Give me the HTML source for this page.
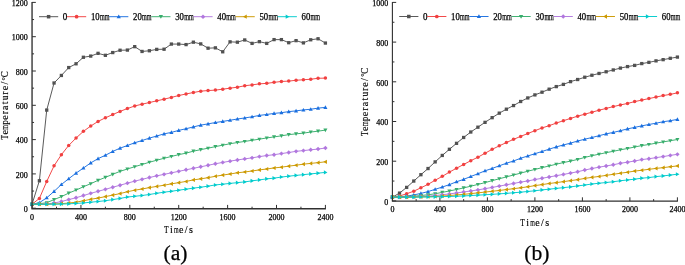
<!DOCTYPE html>
<html><head><meta charset="utf-8"><title>Temperature curves</title>
<style>
html,body{margin:0;padding:0;background:#fff;}
body{width:685px;height:265px;overflow:hidden;}
svg{display:block;will-change:transform;}
.ttl text{stroke-width:0.15px;}
text{font-family:"Liberation Serif",serif;fill:#000;stroke:#000;stroke-width:0.25px;}
</style></head><body>
<svg width="685" height="265" viewBox="0 0 685 265">
<rect width="685" height="265" fill="#fff"/>
<polyline fill="none" stroke="#515151" stroke-width="0.95" stroke-linejoin="round" points="32.05,204.26 39.38,180.76 46.72,110.10 54.05,83.00 61.38,75.46 68.72,67.57 76.05,63.80 83.39,57.28 90.72,56.08 98.05,53.34 105.39,55.31 112.72,52.56 120.05,50.25 127.39,50.08 134.72,46.65 142.06,51.45 149.39,50.76 156.72,49.39 164.06,49.22 171.39,44.07 178.72,44.07 186.06,44.59 193.39,42.19 200.73,43.90 208.06,48.19 215.39,47.85 222.73,51.79 230.06,41.84 237.39,42.19 244.73,39.96 252.06,43.39 259.40,41.67 266.73,43.39 274.06,39.62 281.40,39.62 288.73,42.70 296.06,40.64 303.40,42.87 310.73,39.79 318.07,38.76 325.40,43.05"/>
<rect x="30.40" y="202.61" width="3.30" height="3.30" fill="#515151"/>
<rect x="37.73" y="179.11" width="3.30" height="3.30" fill="#515151"/>
<rect x="45.07" y="108.45" width="3.30" height="3.30" fill="#515151"/>
<rect x="52.40" y="81.35" width="3.30" height="3.30" fill="#515151"/>
<rect x="59.73" y="73.81" width="3.30" height="3.30" fill="#515151"/>
<rect x="67.07" y="65.92" width="3.30" height="3.30" fill="#515151"/>
<rect x="74.40" y="62.15" width="3.30" height="3.30" fill="#515151"/>
<rect x="81.74" y="55.63" width="3.30" height="3.30" fill="#515151"/>
<rect x="89.07" y="54.43" width="3.30" height="3.30" fill="#515151"/>
<rect x="96.40" y="51.69" width="3.30" height="3.30" fill="#515151"/>
<rect x="103.74" y="53.66" width="3.30" height="3.30" fill="#515151"/>
<rect x="111.07" y="50.91" width="3.30" height="3.30" fill="#515151"/>
<rect x="118.40" y="48.60" width="3.30" height="3.30" fill="#515151"/>
<rect x="125.74" y="48.43" width="3.30" height="3.30" fill="#515151"/>
<rect x="133.07" y="45.00" width="3.30" height="3.30" fill="#515151"/>
<rect x="140.41" y="49.80" width="3.30" height="3.30" fill="#515151"/>
<rect x="147.74" y="49.11" width="3.30" height="3.30" fill="#515151"/>
<rect x="155.07" y="47.74" width="3.30" height="3.30" fill="#515151"/>
<rect x="162.41" y="47.57" width="3.30" height="3.30" fill="#515151"/>
<rect x="169.74" y="42.42" width="3.30" height="3.30" fill="#515151"/>
<rect x="177.07" y="42.42" width="3.30" height="3.30" fill="#515151"/>
<rect x="184.41" y="42.94" width="3.30" height="3.30" fill="#515151"/>
<rect x="191.74" y="40.54" width="3.30" height="3.30" fill="#515151"/>
<rect x="199.08" y="42.25" width="3.30" height="3.30" fill="#515151"/>
<rect x="206.41" y="46.54" width="3.30" height="3.30" fill="#515151"/>
<rect x="213.74" y="46.20" width="3.30" height="3.30" fill="#515151"/>
<rect x="221.08" y="50.14" width="3.30" height="3.30" fill="#515151"/>
<rect x="228.41" y="40.20" width="3.30" height="3.30" fill="#515151"/>
<rect x="235.74" y="40.54" width="3.30" height="3.30" fill="#515151"/>
<rect x="243.08" y="38.31" width="3.30" height="3.30" fill="#515151"/>
<rect x="250.41" y="41.74" width="3.30" height="3.30" fill="#515151"/>
<rect x="257.75" y="40.02" width="3.30" height="3.30" fill="#515151"/>
<rect x="265.08" y="41.74" width="3.30" height="3.30" fill="#515151"/>
<rect x="272.41" y="37.97" width="3.30" height="3.30" fill="#515151"/>
<rect x="279.75" y="37.97" width="3.30" height="3.30" fill="#515151"/>
<rect x="287.08" y="41.05" width="3.30" height="3.30" fill="#515151"/>
<rect x="294.42" y="38.99" width="3.30" height="3.30" fill="#515151"/>
<rect x="301.75" y="41.22" width="3.30" height="3.30" fill="#515151"/>
<rect x="309.08" y="38.14" width="3.30" height="3.30" fill="#515151"/>
<rect x="316.42" y="37.11" width="3.30" height="3.30" fill="#515151"/>
<rect x="323.75" y="41.40" width="3.30" height="3.30" fill="#515151"/>
<polyline fill="none" stroke="#F14040" stroke-width="0.95" stroke-linejoin="round" points="32.05,204.26 39.38,198.42 46.72,181.45 54.05,165.84 61.38,154.69 68.72,145.43 76.05,138.06 83.39,131.37 90.72,126.05 98.05,121.42 105.39,117.82 112.72,114.56 120.05,111.39 127.39,108.56 134.72,105.99 142.06,104.17 149.39,102.56 156.72,100.84 164.06,99.18 171.39,97.41 178.72,95.52 186.06,93.98 193.39,92.52 200.73,91.15 208.06,90.55 215.39,90.11 222.73,89.18 230.06,88.15 237.39,87.19 244.73,85.75 252.06,84.89 259.40,83.86 266.73,83.35 274.06,82.37 281.40,81.46 288.73,81.12 296.06,80.26 303.40,79.75 310.73,79.23 318.07,78.27 325.40,78.12"/>
<circle cx="32.05" cy="204.26" r="1.75" fill="#F14040"/>
<circle cx="39.38" cy="198.42" r="1.75" fill="#F14040"/>
<circle cx="46.72" cy="181.45" r="1.75" fill="#F14040"/>
<circle cx="54.05" cy="165.84" r="1.75" fill="#F14040"/>
<circle cx="61.38" cy="154.69" r="1.75" fill="#F14040"/>
<circle cx="68.72" cy="145.43" r="1.75" fill="#F14040"/>
<circle cx="76.05" cy="138.06" r="1.75" fill="#F14040"/>
<circle cx="83.39" cy="131.37" r="1.75" fill="#F14040"/>
<circle cx="90.72" cy="126.05" r="1.75" fill="#F14040"/>
<circle cx="98.05" cy="121.42" r="1.75" fill="#F14040"/>
<circle cx="105.39" cy="117.82" r="1.75" fill="#F14040"/>
<circle cx="112.72" cy="114.56" r="1.75" fill="#F14040"/>
<circle cx="120.05" cy="111.39" r="1.75" fill="#F14040"/>
<circle cx="127.39" cy="108.56" r="1.75" fill="#F14040"/>
<circle cx="134.72" cy="105.99" r="1.75" fill="#F14040"/>
<circle cx="142.06" cy="104.17" r="1.75" fill="#F14040"/>
<circle cx="149.39" cy="102.56" r="1.75" fill="#F14040"/>
<circle cx="156.72" cy="100.84" r="1.75" fill="#F14040"/>
<circle cx="164.06" cy="99.18" r="1.75" fill="#F14040"/>
<circle cx="171.39" cy="97.41" r="1.75" fill="#F14040"/>
<circle cx="178.72" cy="95.52" r="1.75" fill="#F14040"/>
<circle cx="186.06" cy="93.98" r="1.75" fill="#F14040"/>
<circle cx="193.39" cy="92.52" r="1.75" fill="#F14040"/>
<circle cx="200.73" cy="91.15" r="1.75" fill="#F14040"/>
<circle cx="208.06" cy="90.55" r="1.75" fill="#F14040"/>
<circle cx="215.39" cy="90.11" r="1.75" fill="#F14040"/>
<circle cx="222.73" cy="89.18" r="1.75" fill="#F14040"/>
<circle cx="230.06" cy="88.15" r="1.75" fill="#F14040"/>
<circle cx="237.39" cy="87.19" r="1.75" fill="#F14040"/>
<circle cx="244.73" cy="85.75" r="1.75" fill="#F14040"/>
<circle cx="252.06" cy="84.89" r="1.75" fill="#F14040"/>
<circle cx="259.40" cy="83.86" r="1.75" fill="#F14040"/>
<circle cx="266.73" cy="83.35" r="1.75" fill="#F14040"/>
<circle cx="274.06" cy="82.37" r="1.75" fill="#F14040"/>
<circle cx="281.40" cy="81.46" r="1.75" fill="#F14040"/>
<circle cx="288.73" cy="81.12" r="1.75" fill="#F14040"/>
<circle cx="296.06" cy="80.26" r="1.75" fill="#F14040"/>
<circle cx="303.40" cy="79.75" r="1.75" fill="#F14040"/>
<circle cx="310.73" cy="79.23" r="1.75" fill="#F14040"/>
<circle cx="318.07" cy="78.27" r="1.75" fill="#F14040"/>
<circle cx="325.40" cy="78.12" r="1.75" fill="#F14040"/>
<polyline fill="none" stroke="#1A6FDF" stroke-width="0.95" stroke-linejoin="round" points="32.05,204.26 39.38,202.71 46.72,197.82 54.05,191.39 61.38,184.53 68.72,178.70 76.05,173.13 83.39,168.07 90.72,162.92 98.05,158.64 105.39,155.29 112.72,151.43 120.05,148.18 127.39,145.50 134.72,142.77 142.06,140.53 149.39,138.11 156.72,136.00 164.06,133.87 171.39,132.40 178.72,130.39 186.06,128.73 193.39,126.91 200.73,125.11 208.06,123.89 215.39,122.54 222.73,121.42 230.06,120.22 237.39,119.02 244.73,117.94 252.06,116.79 259.40,115.42 266.73,114.48 274.06,113.41 281.40,112.67 288.73,111.65 296.06,110.86 303.40,109.93 310.73,109.24 318.07,108.13 325.40,107.38"/>
<path d="M32.05 202.21L34.10 205.79L30.00 205.79Z" fill="#1A6FDF"/>
<path d="M39.38 200.66L41.43 204.25L37.33 204.25Z" fill="#1A6FDF"/>
<path d="M46.72 195.77L48.77 199.36L44.67 199.36Z" fill="#1A6FDF"/>
<path d="M54.05 189.34L56.10 192.93L52.00 192.93Z" fill="#1A6FDF"/>
<path d="M61.38 182.48L63.43 186.07L59.33 186.07Z" fill="#1A6FDF"/>
<path d="M68.72 176.65L70.77 180.24L66.67 180.24Z" fill="#1A6FDF"/>
<path d="M76.05 171.08L78.10 174.67L74.00 174.67Z" fill="#1A6FDF"/>
<path d="M83.39 166.02L85.44 169.61L81.34 169.61Z" fill="#1A6FDF"/>
<path d="M90.72 160.87L92.77 164.46L88.67 164.46Z" fill="#1A6FDF"/>
<path d="M98.05 156.59L100.10 160.17L96.00 160.17Z" fill="#1A6FDF"/>
<path d="M105.39 153.24L107.44 156.83L103.34 156.83Z" fill="#1A6FDF"/>
<path d="M112.72 149.38L114.77 152.97L110.67 152.97Z" fill="#1A6FDF"/>
<path d="M120.05 146.12L122.10 149.71L118.00 149.71Z" fill="#1A6FDF"/>
<path d="M127.39 143.45L129.44 147.04L125.34 147.04Z" fill="#1A6FDF"/>
<path d="M134.72 140.72L136.77 144.31L132.67 144.31Z" fill="#1A6FDF"/>
<path d="M142.06 138.48L144.11 142.06L140.01 142.06Z" fill="#1A6FDF"/>
<path d="M149.39 136.06L151.44 139.65L147.34 139.65Z" fill="#1A6FDF"/>
<path d="M156.72 133.95L158.77 137.54L154.67 137.54Z" fill="#1A6FDF"/>
<path d="M164.06 131.82L166.11 135.41L162.01 135.41Z" fill="#1A6FDF"/>
<path d="M171.39 130.35L173.44 133.93L169.34 133.93Z" fill="#1A6FDF"/>
<path d="M178.72 128.34L180.77 131.93L176.67 131.93Z" fill="#1A6FDF"/>
<path d="M186.06 126.68L188.11 130.26L184.01 130.26Z" fill="#1A6FDF"/>
<path d="M193.39 124.86L195.44 128.45L191.34 128.45Z" fill="#1A6FDF"/>
<path d="M200.73 123.06L202.78 126.65L198.68 126.65Z" fill="#1A6FDF"/>
<path d="M208.06 121.84L210.11 125.43L206.01 125.43Z" fill="#1A6FDF"/>
<path d="M215.39 120.49L217.44 124.07L213.34 124.07Z" fill="#1A6FDF"/>
<path d="M222.73 119.37L224.78 122.96L220.68 122.96Z" fill="#1A6FDF"/>
<path d="M230.06 118.17L232.11 121.76L228.01 121.76Z" fill="#1A6FDF"/>
<path d="M237.39 116.97L239.44 120.56L235.34 120.56Z" fill="#1A6FDF"/>
<path d="M244.73 115.89L246.78 119.48L242.68 119.48Z" fill="#1A6FDF"/>
<path d="M252.06 114.74L254.11 118.33L250.01 118.33Z" fill="#1A6FDF"/>
<path d="M259.40 113.37L261.45 116.96L257.35 116.96Z" fill="#1A6FDF"/>
<path d="M266.73 112.43L268.78 116.01L264.68 116.01Z" fill="#1A6FDF"/>
<path d="M274.06 111.36L276.11 114.95L272.01 114.95Z" fill="#1A6FDF"/>
<path d="M281.40 110.62L283.45 114.21L279.35 114.21Z" fill="#1A6FDF"/>
<path d="M288.73 109.60L290.78 113.18L286.68 113.18Z" fill="#1A6FDF"/>
<path d="M296.06 108.81L298.12 112.39L294.01 112.39Z" fill="#1A6FDF"/>
<path d="M303.40 107.88L305.45 111.47L301.35 111.47Z" fill="#1A6FDF"/>
<path d="M310.73 107.19L312.78 110.78L308.68 110.78Z" fill="#1A6FDF"/>
<path d="M318.07 106.08L320.12 109.67L316.02 109.67Z" fill="#1A6FDF"/>
<path d="M325.40 105.33L327.45 108.91L323.35 108.91Z" fill="#1A6FDF"/>
<polyline fill="none" stroke="#37AD6B" stroke-width="0.95" stroke-linejoin="round" points="32.05,204.26 39.38,203.74 46.72,202.71 54.05,199.62 61.38,196.62 68.72,193.11 76.05,190.07 83.39,186.76 90.72,183.68 98.05,180.35 105.39,177.33 112.72,174.33 120.05,171.33 127.39,169.00 134.72,166.70 142.06,164.47 149.39,162.24 156.72,160.23 164.06,158.29 171.39,156.46 178.72,154.64 186.06,153.15 193.39,151.16 200.73,149.65 208.06,148.18 215.39,146.63 222.73,145.17 230.06,143.72 237.39,142.52 244.73,141.44 252.06,140.29 259.40,139.17 266.73,137.95 274.06,136.91 281.40,135.83 288.73,134.63 296.06,133.87 303.40,133.12 310.73,132.05 318.07,131.16 325.40,130.10"/>
<path d="M32.05 206.31L34.10 202.72L30.00 202.72Z" fill="#37AD6B"/>
<path d="M39.38 205.79L41.43 202.20L37.33 202.20Z" fill="#37AD6B"/>
<path d="M46.72 204.76L48.77 201.17L44.67 201.17Z" fill="#37AD6B"/>
<path d="M54.05 201.68L56.10 198.09L52.00 198.09Z" fill="#37AD6B"/>
<path d="M61.38 198.67L63.43 195.09L59.33 195.09Z" fill="#37AD6B"/>
<path d="M68.72 195.16L70.77 191.57L66.67 191.57Z" fill="#37AD6B"/>
<path d="M76.05 192.12L78.10 188.53L74.00 188.53Z" fill="#37AD6B"/>
<path d="M83.39 188.81L85.44 185.22L81.34 185.22Z" fill="#37AD6B"/>
<path d="M90.72 185.73L92.77 182.14L88.67 182.14Z" fill="#37AD6B"/>
<path d="M98.05 182.40L100.10 178.81L96.00 178.81Z" fill="#37AD6B"/>
<path d="M105.39 179.38L107.44 175.79L103.34 175.79Z" fill="#37AD6B"/>
<path d="M112.72 176.38L114.77 172.79L110.67 172.79Z" fill="#37AD6B"/>
<path d="M120.05 173.38L122.10 169.79L118.00 169.79Z" fill="#37AD6B"/>
<path d="M127.39 171.05L129.44 167.46L125.34 167.46Z" fill="#37AD6B"/>
<path d="M134.72 168.75L136.77 165.16L132.67 165.16Z" fill="#37AD6B"/>
<path d="M142.06 166.52L144.11 162.93L140.01 162.93Z" fill="#37AD6B"/>
<path d="M149.39 164.29L151.44 160.70L147.34 160.70Z" fill="#37AD6B"/>
<path d="M156.72 162.28L158.77 158.69L154.67 158.69Z" fill="#37AD6B"/>
<path d="M164.06 160.34L166.11 156.76L162.01 156.76Z" fill="#37AD6B"/>
<path d="M171.39 158.51L173.44 154.92L169.34 154.92Z" fill="#37AD6B"/>
<path d="M178.72 156.69L180.77 153.10L176.67 153.10Z" fill="#37AD6B"/>
<path d="M186.06 155.20L188.11 151.61L184.01 151.61Z" fill="#37AD6B"/>
<path d="M193.39 153.21L195.44 149.62L191.34 149.62Z" fill="#37AD6B"/>
<path d="M200.73 151.70L202.78 148.11L198.68 148.11Z" fill="#37AD6B"/>
<path d="M208.06 150.23L210.11 146.64L206.01 146.64Z" fill="#37AD6B"/>
<path d="M215.39 148.68L217.44 145.09L213.34 145.09Z" fill="#37AD6B"/>
<path d="M222.73 147.22L224.78 143.64L220.68 143.64Z" fill="#37AD6B"/>
<path d="M230.06 145.77L232.11 142.18L228.01 142.18Z" fill="#37AD6B"/>
<path d="M237.39 144.57L239.44 140.98L235.34 140.98Z" fill="#37AD6B"/>
<path d="M244.73 143.49L246.78 139.90L242.68 139.90Z" fill="#37AD6B"/>
<path d="M252.06 142.34L254.11 138.75L250.01 138.75Z" fill="#37AD6B"/>
<path d="M259.40 141.22L261.45 137.63L257.35 137.63Z" fill="#37AD6B"/>
<path d="M266.73 140.00L268.78 136.42L264.68 136.42Z" fill="#37AD6B"/>
<path d="M274.06 138.96L276.11 135.37L272.01 135.37Z" fill="#37AD6B"/>
<path d="M281.40 137.88L283.45 134.29L279.35 134.29Z" fill="#37AD6B"/>
<path d="M288.73 136.68L290.78 133.09L286.68 133.09Z" fill="#37AD6B"/>
<path d="M296.06 135.92L298.12 132.33L294.01 132.33Z" fill="#37AD6B"/>
<path d="M303.40 135.17L305.45 131.58L301.35 131.58Z" fill="#37AD6B"/>
<path d="M310.73 134.10L312.78 130.52L308.68 130.52Z" fill="#37AD6B"/>
<path d="M318.07 133.21L320.12 129.62L316.02 129.62Z" fill="#37AD6B"/>
<path d="M325.40 132.15L327.45 128.56L323.35 128.56Z" fill="#37AD6B"/>
<polyline fill="none" stroke="#B177DE" stroke-width="0.95" stroke-linejoin="round" points="32.05,204.26 39.38,204.17 46.72,203.91 54.05,203.05 61.38,201.51 68.72,199.62 76.05,197.74 83.39,195.56 90.72,193.37 98.05,191.31 105.39,189.33 112.72,187.23 120.05,185.22 127.39,183.16 134.72,181.15 142.06,179.34 149.39,177.50 156.72,175.86 164.06,174.35 171.39,172.84 178.72,171.33 186.06,169.82 193.39,168.31 200.73,166.80 208.06,165.29 215.39,163.78 222.73,162.41 230.06,161.14 237.39,159.94 244.73,158.88 252.06,157.83 259.40,156.61 266.73,155.55 274.06,154.69 281.40,153.59 288.73,152.53 296.06,151.33 303.40,150.58 310.73,149.82 318.07,149.07 325.40,148.00"/>
<path d="M32.05 202.06L34.25 204.26L32.05 206.46L29.85 204.26Z" fill="#B177DE"/>
<path d="M39.38 201.97L41.58 204.17L39.38 206.37L37.18 204.17Z" fill="#B177DE"/>
<path d="M46.72 201.71L48.92 203.91L46.72 206.11L44.52 203.91Z" fill="#B177DE"/>
<path d="M54.05 200.85L56.25 203.05L54.05 205.25L51.85 203.05Z" fill="#B177DE"/>
<path d="M61.38 199.31L63.58 201.51L61.38 203.71L59.18 201.51Z" fill="#B177DE"/>
<path d="M68.72 197.43L70.92 199.62L68.72 201.82L66.52 199.62Z" fill="#B177DE"/>
<path d="M76.05 195.54L78.25 197.74L76.05 199.94L73.85 197.74Z" fill="#B177DE"/>
<path d="M83.39 193.36L85.59 195.56L83.39 197.76L81.19 195.56Z" fill="#B177DE"/>
<path d="M90.72 191.17L92.92 193.37L90.72 195.57L88.52 193.37Z" fill="#B177DE"/>
<path d="M98.05 189.11L100.25 191.31L98.05 193.51L95.85 191.31Z" fill="#B177DE"/>
<path d="M105.39 187.13L107.59 189.33L105.39 191.53L103.19 189.33Z" fill="#B177DE"/>
<path d="M112.72 185.03L114.92 187.23L112.72 189.43L110.52 187.23Z" fill="#B177DE"/>
<path d="M120.05 183.02L122.25 185.22L120.05 187.42L117.85 185.22Z" fill="#B177DE"/>
<path d="M127.39 180.96L129.59 183.16L127.39 185.36L125.19 183.16Z" fill="#B177DE"/>
<path d="M134.72 178.95L136.92 181.15L134.72 183.35L132.52 181.15Z" fill="#B177DE"/>
<path d="M142.06 177.14L144.26 179.34L142.06 181.54L139.86 179.34Z" fill="#B177DE"/>
<path d="M149.39 175.30L151.59 177.50L149.39 179.70L147.19 177.50Z" fill="#B177DE"/>
<path d="M156.72 173.66L158.92 175.86L156.72 178.06L154.52 175.86Z" fill="#B177DE"/>
<path d="M164.06 172.15L166.26 174.35L164.06 176.55L161.86 174.35Z" fill="#B177DE"/>
<path d="M171.39 170.64L173.59 172.84L171.39 175.04L169.19 172.84Z" fill="#B177DE"/>
<path d="M178.72 169.13L180.92 171.33L178.72 173.53L176.52 171.33Z" fill="#B177DE"/>
<path d="M186.06 167.62L188.26 169.82L186.06 172.02L183.86 169.82Z" fill="#B177DE"/>
<path d="M193.39 166.11L195.59 168.31L193.39 170.51L191.19 168.31Z" fill="#B177DE"/>
<path d="M200.73 164.60L202.93 166.80L200.73 169.00L198.53 166.80Z" fill="#B177DE"/>
<path d="M208.06 163.09L210.26 165.29L208.06 167.49L205.86 165.29Z" fill="#B177DE"/>
<path d="M215.39 161.58L217.59 163.78L215.39 165.98L213.19 163.78Z" fill="#B177DE"/>
<path d="M222.73 160.21L224.93 162.41L222.73 164.61L220.53 162.41Z" fill="#B177DE"/>
<path d="M230.06 158.94L232.26 161.14L230.06 163.34L227.86 161.14Z" fill="#B177DE"/>
<path d="M237.39 157.74L239.59 159.94L237.39 162.14L235.19 159.94Z" fill="#B177DE"/>
<path d="M244.73 156.68L246.93 158.88L244.73 161.08L242.53 158.88Z" fill="#B177DE"/>
<path d="M252.06 155.63L254.26 157.83L252.06 160.03L249.86 157.83Z" fill="#B177DE"/>
<path d="M259.40 154.41L261.60 156.61L259.40 158.81L257.20 156.61Z" fill="#B177DE"/>
<path d="M266.73 153.35L268.93 155.55L266.73 157.75L264.53 155.55Z" fill="#B177DE"/>
<path d="M274.06 152.49L276.26 154.69L274.06 156.89L271.86 154.69Z" fill="#B177DE"/>
<path d="M281.40 151.39L283.60 153.59L281.40 155.79L279.20 153.59Z" fill="#B177DE"/>
<path d="M288.73 150.33L290.93 152.53L288.73 154.73L286.53 152.53Z" fill="#B177DE"/>
<path d="M296.06 149.13L298.26 151.33L296.06 153.53L293.87 151.33Z" fill="#B177DE"/>
<path d="M303.40 148.38L305.60 150.58L303.40 152.78L301.20 150.58Z" fill="#B177DE"/>
<path d="M310.73 147.62L312.93 149.82L310.73 152.02L308.53 149.82Z" fill="#B177DE"/>
<path d="M318.07 146.87L320.27 149.07L318.07 151.27L315.87 149.07Z" fill="#B177DE"/>
<path d="M325.40 145.80L327.60 148.00L325.40 150.20L323.20 148.00Z" fill="#B177DE"/>
<polyline fill="none" stroke="#CC9900" stroke-width="0.95" stroke-linejoin="round" points="32.05,204.26 39.38,204.26 46.72,204.17 54.05,204.00 61.38,203.66 68.72,203.05 76.05,202.20 83.39,200.83 90.72,199.28 98.05,198.08 105.39,196.62 112.72,195.10 120.05,193.62 127.39,191.74 134.72,190.19 142.06,188.99 149.39,187.62 156.72,186.42 164.06,185.22 171.39,183.85 178.72,182.65 186.06,181.45 193.39,179.90 200.73,178.87 208.06,177.67 215.39,176.30 222.73,175.10 230.06,173.99 237.39,172.79 244.73,172.01 252.06,170.98 259.40,169.90 266.73,169.00 274.06,167.93 281.40,167.18 288.73,166.13 296.06,165.22 303.40,164.16 310.73,163.40 318.07,162.65 325.40,161.84"/>
<path d="M30.00 204.26L33.59 202.21L33.59 206.31Z" fill="#CC9900"/>
<path d="M37.33 204.26L40.92 202.21L40.92 206.31Z" fill="#CC9900"/>
<path d="M44.67 204.17L48.25 202.12L48.25 206.22Z" fill="#CC9900"/>
<path d="M52.00 204.00L55.59 201.95L55.59 206.05Z" fill="#CC9900"/>
<path d="M59.33 203.66L62.92 201.61L62.92 205.71Z" fill="#CC9900"/>
<path d="M66.67 203.05L70.26 201.00L70.26 205.10Z" fill="#CC9900"/>
<path d="M74.00 202.20L77.59 200.15L77.59 204.25Z" fill="#CC9900"/>
<path d="M81.34 200.83L84.92 198.78L84.92 202.88Z" fill="#CC9900"/>
<path d="M88.67 199.28L92.26 197.23L92.26 201.33Z" fill="#CC9900"/>
<path d="M96.00 198.08L99.59 196.03L99.59 200.13Z" fill="#CC9900"/>
<path d="M103.34 196.62L106.92 194.57L106.92 198.67Z" fill="#CC9900"/>
<path d="M110.67 195.10L114.26 193.05L114.26 197.15Z" fill="#CC9900"/>
<path d="M118.00 193.62L121.59 191.57L121.59 195.67Z" fill="#CC9900"/>
<path d="M125.34 191.74L128.93 189.69L128.93 193.79Z" fill="#CC9900"/>
<path d="M132.67 190.19L136.26 188.14L136.26 192.24Z" fill="#CC9900"/>
<path d="M140.01 188.99L143.59 186.94L143.59 191.04Z" fill="#CC9900"/>
<path d="M147.34 187.62L150.93 185.57L150.93 189.67Z" fill="#CC9900"/>
<path d="M154.67 186.42L158.26 184.37L158.26 188.47Z" fill="#CC9900"/>
<path d="M162.01 185.22L165.59 183.17L165.59 187.27Z" fill="#CC9900"/>
<path d="M169.34 183.85L172.93 181.80L172.93 185.90Z" fill="#CC9900"/>
<path d="M176.67 182.65L180.26 180.60L180.26 184.70Z" fill="#CC9900"/>
<path d="M184.01 181.45L187.60 179.40L187.60 183.50Z" fill="#CC9900"/>
<path d="M191.34 179.90L194.93 177.85L194.93 181.95Z" fill="#CC9900"/>
<path d="M198.68 178.87L202.26 176.82L202.26 180.92Z" fill="#CC9900"/>
<path d="M206.01 177.67L209.60 175.62L209.60 179.72Z" fill="#CC9900"/>
<path d="M213.34 176.30L216.93 174.25L216.93 178.35Z" fill="#CC9900"/>
<path d="M220.68 175.10L224.26 173.05L224.26 177.15Z" fill="#CC9900"/>
<path d="M228.01 173.99L231.60 171.94L231.60 176.04Z" fill="#CC9900"/>
<path d="M235.34 172.79L238.93 170.74L238.93 174.84Z" fill="#CC9900"/>
<path d="M242.68 172.01L246.27 169.96L246.27 174.06Z" fill="#CC9900"/>
<path d="M250.01 170.98L253.60 168.93L253.60 173.03Z" fill="#CC9900"/>
<path d="M257.35 169.90L260.93 167.85L260.93 171.95Z" fill="#CC9900"/>
<path d="M264.68 169.00L268.27 166.95L268.27 171.05Z" fill="#CC9900"/>
<path d="M272.01 167.93L275.60 165.88L275.60 169.98Z" fill="#CC9900"/>
<path d="M279.35 167.18L282.94 165.13L282.94 169.23Z" fill="#CC9900"/>
<path d="M286.68 166.13L290.27 164.08L290.27 168.18Z" fill="#CC9900"/>
<path d="M294.01 165.22L297.60 163.17L297.60 167.27Z" fill="#CC9900"/>
<path d="M301.35 164.16L304.94 162.11L304.94 166.21Z" fill="#CC9900"/>
<path d="M308.68 163.40L312.27 161.35L312.27 165.45Z" fill="#CC9900"/>
<path d="M316.02 162.65L319.60 160.60L319.60 164.70Z" fill="#CC9900"/>
<path d="M323.35 161.84L326.94 159.79L326.94 163.89Z" fill="#CC9900"/>
<polyline fill="none" stroke="#00CBCC" stroke-width="0.95" stroke-linejoin="round" points="32.05,204.26 39.38,204.26 46.72,204.26 54.05,204.17 61.38,204.08 68.72,203.83 76.05,203.40 83.39,202.95 90.72,202.20 98.05,201.51 105.39,200.69 112.72,199.62 120.05,198.42 127.39,197.05 134.72,196.26 142.06,195.51 149.39,194.48 156.72,193.28 164.06,192.18 171.39,191.27 178.72,190.19 186.06,189.16 193.39,188.13 200.73,187.19 208.06,186.15 215.39,184.93 222.73,184.19 230.06,183.40 237.39,182.65 244.73,181.89 252.06,180.85 259.40,179.90 266.73,178.87 274.06,178.14 281.40,177.07 288.73,176.16 296.06,175.41 303.40,174.65 310.73,173.90 318.07,173.15 325.40,172.39"/>
<path d="M34.10 204.26L30.51 202.21L30.51 206.31Z" fill="#00CBCC"/>
<path d="M41.43 204.26L37.85 202.21L37.85 206.31Z" fill="#00CBCC"/>
<path d="M48.77 204.26L45.18 202.21L45.18 206.31Z" fill="#00CBCC"/>
<path d="M56.10 204.17L52.51 202.12L52.51 206.22Z" fill="#00CBCC"/>
<path d="M63.43 204.08L59.85 202.03L59.85 206.13Z" fill="#00CBCC"/>
<path d="M70.77 203.83L67.18 201.78L67.18 205.88Z" fill="#00CBCC"/>
<path d="M78.10 203.40L74.52 201.35L74.52 205.45Z" fill="#00CBCC"/>
<path d="M85.44 202.95L81.85 200.90L81.85 205.00Z" fill="#00CBCC"/>
<path d="M92.77 202.20L89.18 200.15L89.18 204.25Z" fill="#00CBCC"/>
<path d="M100.10 201.51L96.52 199.46L96.52 203.56Z" fill="#00CBCC"/>
<path d="M107.44 200.69L103.85 198.64L103.85 202.74Z" fill="#00CBCC"/>
<path d="M114.77 199.62L111.18 197.57L111.18 201.68Z" fill="#00CBCC"/>
<path d="M122.10 198.42L118.52 196.37L118.52 200.47Z" fill="#00CBCC"/>
<path d="M129.44 197.05L125.85 195.00L125.85 199.10Z" fill="#00CBCC"/>
<path d="M136.77 196.26L133.18 194.21L133.18 198.31Z" fill="#00CBCC"/>
<path d="M144.11 195.51L140.52 193.46L140.52 197.56Z" fill="#00CBCC"/>
<path d="M151.44 194.48L147.85 192.43L147.85 196.53Z" fill="#00CBCC"/>
<path d="M158.77 193.28L155.19 191.23L155.19 195.33Z" fill="#00CBCC"/>
<path d="M166.11 192.18L162.52 190.13L162.52 194.23Z" fill="#00CBCC"/>
<path d="M173.44 191.27L169.85 189.22L169.85 193.32Z" fill="#00CBCC"/>
<path d="M180.77 190.19L177.19 188.14L177.19 192.24Z" fill="#00CBCC"/>
<path d="M188.11 189.16L184.52 187.11L184.52 191.21Z" fill="#00CBCC"/>
<path d="M195.44 188.13L191.85 186.08L191.85 190.18Z" fill="#00CBCC"/>
<path d="M202.78 187.19L199.19 185.14L199.19 189.24Z" fill="#00CBCC"/>
<path d="M210.11 186.15L206.52 184.10L206.52 188.20Z" fill="#00CBCC"/>
<path d="M217.44 184.93L213.86 182.88L213.86 186.98Z" fill="#00CBCC"/>
<path d="M224.78 184.19L221.19 182.14L221.19 186.24Z" fill="#00CBCC"/>
<path d="M232.11 183.40L228.52 181.35L228.52 185.45Z" fill="#00CBCC"/>
<path d="M239.44 182.65L235.86 180.60L235.86 184.70Z" fill="#00CBCC"/>
<path d="M246.78 181.89L243.19 179.84L243.19 183.94Z" fill="#00CBCC"/>
<path d="M254.11 180.85L250.53 178.80L250.53 182.90Z" fill="#00CBCC"/>
<path d="M261.45 179.90L257.86 177.85L257.86 181.95Z" fill="#00CBCC"/>
<path d="M268.78 178.87L265.19 176.82L265.19 180.92Z" fill="#00CBCC"/>
<path d="M276.11 178.14L272.53 176.09L272.53 180.19Z" fill="#00CBCC"/>
<path d="M283.45 177.07L279.86 175.02L279.86 179.12Z" fill="#00CBCC"/>
<path d="M290.78 176.16L287.19 174.11L287.19 178.21Z" fill="#00CBCC"/>
<path d="M298.12 175.41L294.53 173.36L294.53 177.46Z" fill="#00CBCC"/>
<path d="M305.45 174.65L301.86 172.60L301.86 176.70Z" fill="#00CBCC"/>
<path d="M312.78 173.90L309.19 171.85L309.19 175.95Z" fill="#00CBCC"/>
<path d="M320.12 173.15L316.53 171.10L316.53 175.20Z" fill="#00CBCC"/>
<path d="M327.45 172.39L323.86 170.34L323.86 174.44Z" fill="#00CBCC"/>
<path d="M32.05 1.90V209.38M31.37 208.70H325.90" stroke="#303030" stroke-width="1.35" fill="none"/>
<path d="M32.05 208.20h3.8M32.05 191.05h2.0M32.05 173.90h3.8M32.05 156.75h2.0M32.05 139.60h3.8M32.05 122.45h2.0M32.05 105.30h3.8M32.05 88.15h2.0M32.05 71.00h3.8M32.05 53.85h2.0M32.05 36.70h3.8M32.05 19.55h2.0M32.05 2.40h3.8M32.05 208.70v-3.8M56.50 208.70v-2.0M80.94 208.70v-3.8M105.39 208.70v-2.0M129.83 208.70v-3.8M154.28 208.70v-2.0M178.72 208.70v-3.8M203.17 208.70v-2.0M227.62 208.70v-3.8M252.06 208.70v-2.0M276.51 208.70v-3.8M300.95 208.70v-2.0M325.40 208.70v-3.8" stroke="#303030" stroke-width="1" fill="none"/>
<text x="27.85" y="211.95" text-anchor="end" font-size="8.7" textLength="4.0" lengthAdjust="spacingAndGlyphs">0</text>
<text x="27.85" y="177.65" text-anchor="end" font-size="8.7" textLength="12.0" lengthAdjust="spacingAndGlyphs">200</text>
<text x="27.85" y="143.35" text-anchor="end" font-size="8.7" textLength="12.0" lengthAdjust="spacingAndGlyphs">400</text>
<text x="27.85" y="109.05" text-anchor="end" font-size="8.7" textLength="12.0" lengthAdjust="spacingAndGlyphs">600</text>
<text x="27.85" y="74.75" text-anchor="end" font-size="8.7" textLength="12.0" lengthAdjust="spacingAndGlyphs">800</text>
<text x="27.85" y="40.45" text-anchor="end" font-size="8.7" textLength="16.0" lengthAdjust="spacingAndGlyphs">1000</text>
<text x="27.85" y="6.15" text-anchor="end" font-size="8.7" textLength="16.0" lengthAdjust="spacingAndGlyphs">1200</text>
<text x="32.05" y="219.80" text-anchor="middle" font-size="8.7" textLength="4.0" lengthAdjust="spacingAndGlyphs">0</text>
<text x="80.94" y="219.80" text-anchor="middle" font-size="8.7" textLength="12.0" lengthAdjust="spacingAndGlyphs">400</text>
<text x="129.83" y="219.80" text-anchor="middle" font-size="8.7" textLength="12.0" lengthAdjust="spacingAndGlyphs">800</text>
<text x="178.72" y="219.80" text-anchor="middle" font-size="8.7" textLength="16.0" lengthAdjust="spacingAndGlyphs">1200</text>
<text x="227.62" y="219.80" text-anchor="middle" font-size="8.7" textLength="16.0" lengthAdjust="spacingAndGlyphs">1600</text>
<text x="276.51" y="219.80" text-anchor="middle" font-size="8.7" textLength="16.0" lengthAdjust="spacingAndGlyphs">2000</text>
<text x="325.40" y="219.80" text-anchor="middle" font-size="8.7" textLength="16.0" lengthAdjust="spacingAndGlyphs">2400</text>
<g class="ttl"><text x="166.43" y="232.60" text-anchor="middle" font-size="10.0" textLength="4.62" lengthAdjust="spacingAndGlyphs">T</text><text x="171.34" y="232.60" text-anchor="middle" font-size="10.0">i</text><text x="176.27" y="232.60" text-anchor="middle" font-size="10.0" textLength="4.62" lengthAdjust="spacingAndGlyphs">m</text><text x="181.19" y="232.60" text-anchor="middle" font-size="10.0">e</text><text x="186.11" y="232.60" text-anchor="middle" font-size="10.0">/</text><text x="191.03" y="232.60" text-anchor="middle" font-size="10.0">s</text></g>
<g class="ttl" transform="translate(8.00 105.30) rotate(-90)"><text x="-31.98" y="0.00" text-anchor="middle" font-size="10.0" textLength="4.62" lengthAdjust="spacingAndGlyphs">T</text><text x="-27.06" y="0.00" text-anchor="middle" font-size="10.0">e</text><text x="-22.14" y="0.00" text-anchor="middle" font-size="10.0" textLength="4.62" lengthAdjust="spacingAndGlyphs">m</text><text x="-17.22" y="0.00" text-anchor="middle" font-size="10.0" textLength="4.62" lengthAdjust="spacingAndGlyphs">p</text><text x="-12.30" y="0.00" text-anchor="middle" font-size="10.0">e</text><text x="-7.38" y="0.00" text-anchor="middle" font-size="10.0">r</text><text x="-2.46" y="0.00" text-anchor="middle" font-size="10.0">a</text><text x="2.46" y="0.00" text-anchor="middle" font-size="10.0">t</text><text x="7.38" y="0.00" text-anchor="middle" font-size="10.0" textLength="4.62" lengthAdjust="spacingAndGlyphs">u</text><text x="12.30" y="0.00" text-anchor="middle" font-size="10.0">r</text><text x="17.22" y="0.00" text-anchor="middle" font-size="10.0">e</text><text x="22.14" y="0.00" text-anchor="middle" font-size="10.0">/</text><text x="26.50" y="-0.4" text-anchor="middle" font-size="8.5">°</text><text x="31.00" y="0" text-anchor="middle" font-size="10" textLength="6.0" lengthAdjust="spacingAndGlyphs">C</text></g>
<path d="M39.00 16.70h19.2" stroke="#515151" stroke-width="0.95"/>
<rect x="46.85" y="14.95" width="3.50" height="3.50" fill="#515151"/>
<text x="62.70" y="20.00" font-size="9.6" textLength="4.5" lengthAdjust="spacingAndGlyphs">0</text>
<path d="M67.00 16.70h19.2" stroke="#F14040" stroke-width="0.95"/>
<circle cx="76.60" cy="16.70" r="1.85" fill="#F14040"/>
<text x="90.90" y="20.00" font-size="9.6" textLength="8.7" lengthAdjust="spacingAndGlyphs">10</text>
<text x="99.90" y="20.00" font-size="10.5" textLength="9.5" lengthAdjust="spacingAndGlyphs">mm</text>
<path d="M109.14 16.70h19.2" stroke="#1A6FDF" stroke-width="0.95"/>
<path d="M118.74 14.55L120.89 18.31L116.59 18.31Z" fill="#1A6FDF"/>
<text x="133.04" y="20.00" font-size="9.6" textLength="8.7" lengthAdjust="spacingAndGlyphs">20</text>
<text x="142.04" y="20.00" font-size="10.5" textLength="9.5" lengthAdjust="spacingAndGlyphs">mm</text>
<path d="M151.28 16.70h19.2" stroke="#37AD6B" stroke-width="0.95"/>
<path d="M160.88 18.85L163.03 15.09L158.73 15.09Z" fill="#37AD6B"/>
<text x="175.18" y="20.00" font-size="9.6" textLength="8.7" lengthAdjust="spacingAndGlyphs">30</text>
<text x="184.18" y="20.00" font-size="10.5" textLength="9.5" lengthAdjust="spacingAndGlyphs">mm</text>
<path d="M193.42 16.70h19.2" stroke="#B177DE" stroke-width="0.95"/>
<path d="M203.02 14.40L205.32 16.70L203.02 19.00L200.72 16.70Z" fill="#B177DE"/>
<text x="217.32" y="20.00" font-size="9.6" textLength="8.7" lengthAdjust="spacingAndGlyphs">40</text>
<text x="226.32" y="20.00" font-size="10.5" textLength="9.5" lengthAdjust="spacingAndGlyphs">mm</text>
<path d="M235.56 16.70h19.2" stroke="#CC9900" stroke-width="0.95"/>
<path d="M243.01 16.70L246.77 14.55L246.77 18.85Z" fill="#CC9900"/>
<text x="259.46" y="20.00" font-size="9.6" textLength="8.7" lengthAdjust="spacingAndGlyphs">50</text>
<text x="268.46" y="20.00" font-size="10.5" textLength="9.5" lengthAdjust="spacingAndGlyphs">mm</text>
<path d="M277.70 16.70h19.2" stroke="#00CBCC" stroke-width="0.95"/>
<path d="M289.45 16.70L285.69 14.55L285.69 18.85Z" fill="#00CBCC"/>
<text x="301.60" y="20.00" font-size="9.6" textLength="8.7" lengthAdjust="spacingAndGlyphs">60</text>
<text x="310.60" y="20.00" font-size="10.5" textLength="9.5" lengthAdjust="spacingAndGlyphs">mm</text>
<text x="163.60" y="260.3" font-size="21.6" stroke="none">(a)</text>
<polyline fill="none" stroke="#515151" stroke-width="0.95" stroke-linejoin="round" points="392.40,197.19 399.52,193.12 406.65,187.40 413.77,181.05 420.90,174.70 428.02,168.54 435.15,161.89 442.27,155.44 449.40,149.29 456.52,143.34 463.65,137.48 470.77,132.02 477.90,127.20 485.02,122.35 492.15,117.67 499.27,113.16 506.40,109.19 513.52,105.56 520.65,101.49 527.77,97.94 534.90,94.90 542.02,92.20 549.15,89.18 556.27,86.60 563.40,84.38 570.52,81.64 577.65,79.52 584.77,77.23 591.90,75.25 599.02,73.46 606.15,71.76 613.27,69.95 620.40,68.10 627.52,66.59 634.65,65.40 641.77,63.58 648.90,62.37 656.02,60.86 663.15,59.65 670.27,58.30 677.40,57.09"/>
<rect x="390.75" y="195.54" width="3.30" height="3.30" fill="#515151"/>
<rect x="397.88" y="191.47" width="3.30" height="3.30" fill="#515151"/>
<rect x="405.00" y="185.75" width="3.30" height="3.30" fill="#515151"/>
<rect x="412.12" y="179.40" width="3.30" height="3.30" fill="#515151"/>
<rect x="419.25" y="173.05" width="3.30" height="3.30" fill="#515151"/>
<rect x="426.38" y="166.89" width="3.30" height="3.30" fill="#515151"/>
<rect x="433.50" y="160.24" width="3.30" height="3.30" fill="#515151"/>
<rect x="440.62" y="153.79" width="3.30" height="3.30" fill="#515151"/>
<rect x="447.75" y="147.64" width="3.30" height="3.30" fill="#515151"/>
<rect x="454.88" y="141.69" width="3.30" height="3.30" fill="#515151"/>
<rect x="462.00" y="135.83" width="3.30" height="3.30" fill="#515151"/>
<rect x="469.12" y="130.37" width="3.30" height="3.30" fill="#515151"/>
<rect x="476.25" y="125.55" width="3.30" height="3.30" fill="#515151"/>
<rect x="483.38" y="120.70" width="3.30" height="3.30" fill="#515151"/>
<rect x="490.50" y="116.02" width="3.30" height="3.30" fill="#515151"/>
<rect x="497.62" y="111.51" width="3.30" height="3.30" fill="#515151"/>
<rect x="504.75" y="107.54" width="3.30" height="3.30" fill="#515151"/>
<rect x="511.88" y="103.91" width="3.30" height="3.30" fill="#515151"/>
<rect x="519.00" y="99.84" width="3.30" height="3.30" fill="#515151"/>
<rect x="526.12" y="96.29" width="3.30" height="3.30" fill="#515151"/>
<rect x="533.25" y="93.25" width="3.30" height="3.30" fill="#515151"/>
<rect x="540.38" y="90.55" width="3.30" height="3.30" fill="#515151"/>
<rect x="547.50" y="87.53" width="3.30" height="3.30" fill="#515151"/>
<rect x="554.62" y="84.95" width="3.30" height="3.30" fill="#515151"/>
<rect x="561.75" y="82.73" width="3.30" height="3.30" fill="#515151"/>
<rect x="568.88" y="79.99" width="3.30" height="3.30" fill="#515151"/>
<rect x="576.00" y="77.87" width="3.30" height="3.30" fill="#515151"/>
<rect x="583.12" y="75.58" width="3.30" height="3.30" fill="#515151"/>
<rect x="590.25" y="73.60" width="3.30" height="3.30" fill="#515151"/>
<rect x="597.38" y="71.81" width="3.30" height="3.30" fill="#515151"/>
<rect x="604.50" y="70.11" width="3.30" height="3.30" fill="#515151"/>
<rect x="611.62" y="68.30" width="3.30" height="3.30" fill="#515151"/>
<rect x="618.75" y="66.45" width="3.30" height="3.30" fill="#515151"/>
<rect x="625.88" y="64.94" width="3.30" height="3.30" fill="#515151"/>
<rect x="633.00" y="63.75" width="3.30" height="3.30" fill="#515151"/>
<rect x="640.12" y="61.93" width="3.30" height="3.30" fill="#515151"/>
<rect x="647.25" y="60.72" width="3.30" height="3.30" fill="#515151"/>
<rect x="654.38" y="59.21" width="3.30" height="3.30" fill="#515151"/>
<rect x="661.50" y="58.00" width="3.30" height="3.30" fill="#515151"/>
<rect x="668.62" y="56.65" width="3.30" height="3.30" fill="#515151"/>
<rect x="675.75" y="55.44" width="3.30" height="3.30" fill="#515151"/>
<polyline fill="none" stroke="#F14040" stroke-width="0.95" stroke-linejoin="round" points="392.40,197.19 399.52,196.00 406.65,193.75 413.77,191.17 420.90,187.80 428.02,184.35 435.15,180.26 442.27,176.35 449.40,172.12 456.52,168.23 463.65,164.46 470.77,160.68 477.90,157.23 485.02,153.26 492.15,149.33 499.27,145.86 506.40,142.54 513.52,139.37 520.65,136.39 527.77,133.51 534.90,130.71 542.02,127.95 549.15,125.67 556.27,123.09 563.40,120.71 570.52,118.42 577.65,116.16 584.77,114.18 591.90,112.21 599.02,110.23 606.15,108.42 613.27,106.61 620.40,104.95 627.52,103.44 634.65,101.61 641.77,100.10 648.90,98.59 656.02,97.08 663.15,95.58 670.27,94.37 677.40,92.86"/>
<circle cx="392.40" cy="197.19" r="1.75" fill="#F14040"/>
<circle cx="399.52" cy="196.00" r="1.75" fill="#F14040"/>
<circle cx="406.65" cy="193.75" r="1.75" fill="#F14040"/>
<circle cx="413.77" cy="191.17" r="1.75" fill="#F14040"/>
<circle cx="420.90" cy="187.80" r="1.75" fill="#F14040"/>
<circle cx="428.02" cy="184.35" r="1.75" fill="#F14040"/>
<circle cx="435.15" cy="180.26" r="1.75" fill="#F14040"/>
<circle cx="442.27" cy="176.35" r="1.75" fill="#F14040"/>
<circle cx="449.40" cy="172.12" r="1.75" fill="#F14040"/>
<circle cx="456.52" cy="168.23" r="1.75" fill="#F14040"/>
<circle cx="463.65" cy="164.46" r="1.75" fill="#F14040"/>
<circle cx="470.77" cy="160.68" r="1.75" fill="#F14040"/>
<circle cx="477.90" cy="157.23" r="1.75" fill="#F14040"/>
<circle cx="485.02" cy="153.26" r="1.75" fill="#F14040"/>
<circle cx="492.15" cy="149.33" r="1.75" fill="#F14040"/>
<circle cx="499.27" cy="145.86" r="1.75" fill="#F14040"/>
<circle cx="506.40" cy="142.54" r="1.75" fill="#F14040"/>
<circle cx="513.52" cy="139.37" r="1.75" fill="#F14040"/>
<circle cx="520.65" cy="136.39" r="1.75" fill="#F14040"/>
<circle cx="527.77" cy="133.51" r="1.75" fill="#F14040"/>
<circle cx="534.90" cy="130.71" r="1.75" fill="#F14040"/>
<circle cx="542.02" cy="127.95" r="1.75" fill="#F14040"/>
<circle cx="549.15" cy="125.67" r="1.75" fill="#F14040"/>
<circle cx="556.27" cy="123.09" r="1.75" fill="#F14040"/>
<circle cx="563.40" cy="120.71" r="1.75" fill="#F14040"/>
<circle cx="570.52" cy="118.42" r="1.75" fill="#F14040"/>
<circle cx="577.65" cy="116.16" r="1.75" fill="#F14040"/>
<circle cx="584.77" cy="114.18" r="1.75" fill="#F14040"/>
<circle cx="591.90" cy="112.21" r="1.75" fill="#F14040"/>
<circle cx="599.02" cy="110.23" r="1.75" fill="#F14040"/>
<circle cx="606.15" cy="108.42" r="1.75" fill="#F14040"/>
<circle cx="613.27" cy="106.61" r="1.75" fill="#F14040"/>
<circle cx="620.40" cy="104.95" r="1.75" fill="#F14040"/>
<circle cx="627.52" cy="103.44" r="1.75" fill="#F14040"/>
<circle cx="634.65" cy="101.61" r="1.75" fill="#F14040"/>
<circle cx="641.77" cy="100.10" r="1.75" fill="#F14040"/>
<circle cx="648.90" cy="98.59" r="1.75" fill="#F14040"/>
<circle cx="656.02" cy="97.08" r="1.75" fill="#F14040"/>
<circle cx="663.15" cy="95.58" r="1.75" fill="#F14040"/>
<circle cx="670.27" cy="94.37" r="1.75" fill="#F14040"/>
<circle cx="677.40" cy="92.86" r="1.75" fill="#F14040"/>
<polyline fill="none" stroke="#1A6FDF" stroke-width="0.95" stroke-linejoin="round" points="392.40,197.19 399.52,196.93 406.65,196.14 413.77,194.94 420.90,193.42 428.02,191.59 435.15,189.33 442.27,187.06 449.40,184.64 456.52,181.78 463.65,179.36 470.77,176.48 477.90,173.78 485.02,170.83 492.15,168.43 499.27,165.81 506.40,163.22 513.52,161.00 520.65,158.24 527.77,155.98 534.90,153.72 542.02,151.47 549.15,149.17 556.27,146.91 563.40,144.96 570.52,143.14 577.65,141.01 584.77,139.21 591.90,137.50 599.02,135.69 606.15,133.89 613.27,132.42 620.40,130.69 627.52,128.88 634.65,127.38 641.77,125.87 648.90,124.48 656.02,123.19 663.15,121.74 670.27,120.69 677.40,119.40"/>
<path d="M392.40 195.14L394.45 198.73L390.35 198.73Z" fill="#1A6FDF"/>
<path d="M399.52 194.88L401.57 198.47L397.47 198.47Z" fill="#1A6FDF"/>
<path d="M406.65 194.09L408.70 197.67L404.60 197.67Z" fill="#1A6FDF"/>
<path d="M413.77 192.89L415.82 196.48L411.72 196.48Z" fill="#1A6FDF"/>
<path d="M420.90 191.37L422.95 194.95L418.85 194.95Z" fill="#1A6FDF"/>
<path d="M428.02 189.54L430.07 193.13L425.97 193.13Z" fill="#1A6FDF"/>
<path d="M435.15 187.28L437.20 190.86L433.10 190.86Z" fill="#1A6FDF"/>
<path d="M442.27 185.01L444.32 188.60L440.22 188.60Z" fill="#1A6FDF"/>
<path d="M449.40 182.59L451.45 186.18L447.35 186.18Z" fill="#1A6FDF"/>
<path d="M456.52 179.73L458.57 183.32L454.47 183.32Z" fill="#1A6FDF"/>
<path d="M463.65 177.31L465.70 180.90L461.60 180.90Z" fill="#1A6FDF"/>
<path d="M470.77 174.43L472.82 178.02L468.72 178.02Z" fill="#1A6FDF"/>
<path d="M477.90 171.73L479.95 175.32L475.85 175.32Z" fill="#1A6FDF"/>
<path d="M485.02 168.78L487.07 172.36L482.97 172.36Z" fill="#1A6FDF"/>
<path d="M492.15 166.38L494.20 169.96L490.10 169.96Z" fill="#1A6FDF"/>
<path d="M499.27 163.76L501.32 167.34L497.22 167.34Z" fill="#1A6FDF"/>
<path d="M506.40 161.17L508.45 164.76L504.35 164.76Z" fill="#1A6FDF"/>
<path d="M513.52 158.95L515.57 162.54L511.47 162.54Z" fill="#1A6FDF"/>
<path d="M520.65 156.19L522.70 159.78L518.60 159.78Z" fill="#1A6FDF"/>
<path d="M527.77 153.93L529.82 157.52L525.73 157.52Z" fill="#1A6FDF"/>
<path d="M534.90 151.67L536.95 155.25L532.85 155.25Z" fill="#1A6FDF"/>
<path d="M542.02 149.42L544.07 153.01L539.98 153.01Z" fill="#1A6FDF"/>
<path d="M549.15 147.12L551.20 150.71L547.10 150.71Z" fill="#1A6FDF"/>
<path d="M556.27 144.86L558.32 148.45L554.23 148.45Z" fill="#1A6FDF"/>
<path d="M563.40 142.91L565.45 146.50L561.35 146.50Z" fill="#1A6FDF"/>
<path d="M570.52 141.09L572.57 144.67L568.48 144.67Z" fill="#1A6FDF"/>
<path d="M577.65 138.96L579.70 142.55L575.60 142.55Z" fill="#1A6FDF"/>
<path d="M584.77 137.16L586.82 140.74L582.73 140.74Z" fill="#1A6FDF"/>
<path d="M591.90 135.45L593.95 139.04L589.85 139.04Z" fill="#1A6FDF"/>
<path d="M599.02 133.64L601.07 137.23L596.98 137.23Z" fill="#1A6FDF"/>
<path d="M606.15 131.84L608.20 135.42L604.10 135.42Z" fill="#1A6FDF"/>
<path d="M613.27 130.37L615.32 133.96L611.23 133.96Z" fill="#1A6FDF"/>
<path d="M620.40 128.64L622.45 132.23L618.35 132.23Z" fill="#1A6FDF"/>
<path d="M627.52 126.83L629.57 130.42L625.48 130.42Z" fill="#1A6FDF"/>
<path d="M634.65 125.33L636.70 128.91L632.60 128.91Z" fill="#1A6FDF"/>
<path d="M641.77 123.82L643.82 127.40L639.73 127.40Z" fill="#1A6FDF"/>
<path d="M648.90 122.43L650.95 126.02L646.85 126.02Z" fill="#1A6FDF"/>
<path d="M656.02 121.14L658.07 124.72L653.98 124.72Z" fill="#1A6FDF"/>
<path d="M663.15 119.69L665.20 123.28L661.10 123.28Z" fill="#1A6FDF"/>
<path d="M670.27 118.64L672.32 122.22L668.23 122.22Z" fill="#1A6FDF"/>
<path d="M677.40 117.35L679.45 120.93L675.35 120.93Z" fill="#1A6FDF"/>
<polyline fill="none" stroke="#37AD6B" stroke-width="0.95" stroke-linejoin="round" points="392.40,197.13 399.52,197.03 406.65,196.73 413.77,196.24 420.90,195.54 428.02,194.75 435.15,193.75 442.27,192.36 449.40,190.97 456.52,189.49 463.65,187.90 470.77,186.21 477.90,184.42 485.02,182.64 492.15,180.65 499.27,178.77 506.40,176.88 513.52,175.00 520.65,173.11 527.77,171.22 534.90,169.44 542.02,167.65 549.15,165.96 556.27,164.18 563.40,162.59 570.52,161.10 577.65,159.41 584.77,157.43 591.90,155.70 599.02,154.19 606.15,152.66 613.27,151.31 620.40,149.81 627.52,148.50 634.65,147.01 641.77,145.58 648.90,144.49 656.02,143.14 663.15,141.95 670.27,140.71 677.40,139.50"/>
<path d="M392.40 199.18L394.45 195.59L390.35 195.59Z" fill="#37AD6B"/>
<path d="M399.52 199.08L401.57 195.49L397.47 195.49Z" fill="#37AD6B"/>
<path d="M406.65 198.78L408.70 195.19L404.60 195.19Z" fill="#37AD6B"/>
<path d="M413.77 198.29L415.82 194.70L411.72 194.70Z" fill="#37AD6B"/>
<path d="M420.90 197.59L422.95 194.00L418.85 194.00Z" fill="#37AD6B"/>
<path d="M428.02 196.80L430.07 193.21L425.97 193.21Z" fill="#37AD6B"/>
<path d="M435.15 195.80L437.20 192.22L433.10 192.22Z" fill="#37AD6B"/>
<path d="M442.27 194.41L444.32 190.83L440.22 190.83Z" fill="#37AD6B"/>
<path d="M449.40 193.03L451.45 189.44L447.35 189.44Z" fill="#37AD6B"/>
<path d="M456.52 191.54L458.57 187.95L454.47 187.95Z" fill="#37AD6B"/>
<path d="M463.65 189.95L465.70 186.36L461.60 186.36Z" fill="#37AD6B"/>
<path d="M470.77 188.26L472.82 184.67L468.72 184.67Z" fill="#37AD6B"/>
<path d="M477.90 186.47L479.95 182.89L475.85 182.89Z" fill="#37AD6B"/>
<path d="M485.02 184.69L487.07 181.10L482.97 181.10Z" fill="#37AD6B"/>
<path d="M492.15 182.70L494.20 179.12L490.10 179.12Z" fill="#37AD6B"/>
<path d="M499.27 180.82L501.32 177.23L497.22 177.23Z" fill="#37AD6B"/>
<path d="M506.40 178.93L508.45 175.34L504.35 175.34Z" fill="#37AD6B"/>
<path d="M513.52 177.05L515.57 173.46L511.47 173.46Z" fill="#37AD6B"/>
<path d="M520.65 175.16L522.70 171.57L518.60 171.57Z" fill="#37AD6B"/>
<path d="M527.77 173.27L529.82 169.69L525.73 169.69Z" fill="#37AD6B"/>
<path d="M534.90 171.49L536.95 167.90L532.85 167.90Z" fill="#37AD6B"/>
<path d="M542.02 169.70L544.07 166.11L539.98 166.11Z" fill="#37AD6B"/>
<path d="M549.15 168.01L551.20 164.43L547.10 164.43Z" fill="#37AD6B"/>
<path d="M556.27 166.23L558.32 162.64L554.23 162.64Z" fill="#37AD6B"/>
<path d="M563.40 164.64L565.45 161.05L561.35 161.05Z" fill="#37AD6B"/>
<path d="M570.52 163.15L572.57 159.56L568.48 159.56Z" fill="#37AD6B"/>
<path d="M577.65 161.46L579.70 157.88L575.60 157.88Z" fill="#37AD6B"/>
<path d="M584.77 159.48L586.82 155.89L582.73 155.89Z" fill="#37AD6B"/>
<path d="M591.90 157.75L593.95 154.16L589.85 154.16Z" fill="#37AD6B"/>
<path d="M599.02 156.24L601.07 152.66L596.98 152.66Z" fill="#37AD6B"/>
<path d="M606.15 154.71L608.20 151.13L604.10 151.13Z" fill="#37AD6B"/>
<path d="M613.27 153.36L615.32 149.78L611.23 149.78Z" fill="#37AD6B"/>
<path d="M620.40 151.86L622.45 148.27L618.35 148.27Z" fill="#37AD6B"/>
<path d="M627.52 150.55L629.57 146.96L625.48 146.96Z" fill="#37AD6B"/>
<path d="M634.65 149.06L636.70 145.47L632.60 145.47Z" fill="#37AD6B"/>
<path d="M641.77 147.63L643.82 144.04L639.73 144.04Z" fill="#37AD6B"/>
<path d="M648.90 146.54L650.95 142.95L646.85 142.95Z" fill="#37AD6B"/>
<path d="M656.02 145.19L658.07 141.60L653.98 141.60Z" fill="#37AD6B"/>
<path d="M663.15 144.00L665.20 140.41L661.10 140.41Z" fill="#37AD6B"/>
<path d="M670.27 142.76L672.32 139.18L668.23 139.18Z" fill="#37AD6B"/>
<path d="M677.40 141.55L679.45 137.97L675.35 137.97Z" fill="#37AD6B"/>
<polyline fill="none" stroke="#B177DE" stroke-width="0.95" stroke-linejoin="round" points="392.40,197.13 399.52,197.13 406.65,197.03 413.77,196.83 420.90,196.53 428.02,196.14 435.15,195.54 442.27,194.75 449.40,193.95 456.52,192.96 463.65,191.97 470.77,190.97 477.90,189.88 485.02,188.69 492.15,187.40 499.27,186.11 506.40,184.82 513.52,183.43 520.65,182.14 527.77,180.95 534.90,179.56 542.02,178.27 549.15,176.98 556.27,175.69 563.40,174.40 570.52,173.11 577.65,171.72 584.77,170.05 591.90,168.54 599.02,167.17 606.15,165.96 613.27,164.77 620.40,163.24 627.52,162.19 634.65,161.00 641.77,159.61 648.90,158.72 656.02,157.67 663.15,156.59 670.27,155.38 677.40,154.33"/>
<path d="M392.40 194.93L394.60 197.13L392.40 199.33L390.20 197.13Z" fill="#B177DE"/>
<path d="M399.52 194.93L401.72 197.13L399.52 199.33L397.32 197.13Z" fill="#B177DE"/>
<path d="M406.65 194.83L408.85 197.03L406.65 199.23L404.45 197.03Z" fill="#B177DE"/>
<path d="M413.77 194.63L415.97 196.83L413.77 199.03L411.57 196.83Z" fill="#B177DE"/>
<path d="M420.90 194.33L423.10 196.53L420.90 198.73L418.70 196.53Z" fill="#B177DE"/>
<path d="M428.02 193.94L430.22 196.14L428.02 198.34L425.82 196.14Z" fill="#B177DE"/>
<path d="M435.15 193.34L437.35 195.54L435.15 197.74L432.95 195.54Z" fill="#B177DE"/>
<path d="M442.27 192.55L444.47 194.75L442.27 196.95L440.07 194.75Z" fill="#B177DE"/>
<path d="M449.40 191.75L451.60 193.95L449.40 196.15L447.20 193.95Z" fill="#B177DE"/>
<path d="M456.52 190.76L458.72 192.96L456.52 195.16L454.32 192.96Z" fill="#B177DE"/>
<path d="M463.65 189.77L465.85 191.97L463.65 194.17L461.45 191.97Z" fill="#B177DE"/>
<path d="M470.77 188.78L472.97 190.97L470.77 193.17L468.57 190.97Z" fill="#B177DE"/>
<path d="M477.90 187.68L480.10 189.88L477.90 192.08L475.70 189.88Z" fill="#B177DE"/>
<path d="M485.02 186.49L487.22 188.69L485.02 190.89L482.82 188.69Z" fill="#B177DE"/>
<path d="M492.15 185.20L494.35 187.40L492.15 189.60L489.95 187.40Z" fill="#B177DE"/>
<path d="M499.27 183.91L501.47 186.11L499.27 188.31L497.07 186.11Z" fill="#B177DE"/>
<path d="M506.40 182.62L508.60 184.82L506.40 187.02L504.20 184.82Z" fill="#B177DE"/>
<path d="M513.52 181.23L515.73 183.43L513.52 185.63L511.32 183.43Z" fill="#B177DE"/>
<path d="M520.65 179.94L522.85 182.14L520.65 184.34L518.45 182.14Z" fill="#B177DE"/>
<path d="M527.77 178.75L529.98 180.95L527.77 183.15L525.57 180.95Z" fill="#B177DE"/>
<path d="M534.90 177.36L537.10 179.56L534.90 181.76L532.70 179.56Z" fill="#B177DE"/>
<path d="M542.02 176.07L544.23 178.27L542.02 180.47L539.82 178.27Z" fill="#B177DE"/>
<path d="M549.15 174.78L551.35 176.98L549.15 179.18L546.95 176.98Z" fill="#B177DE"/>
<path d="M556.27 173.49L558.48 175.69L556.27 177.89L554.07 175.69Z" fill="#B177DE"/>
<path d="M563.40 172.20L565.60 174.40L563.40 176.60L561.20 174.40Z" fill="#B177DE"/>
<path d="M570.52 170.91L572.73 173.11L570.52 175.31L568.32 173.11Z" fill="#B177DE"/>
<path d="M577.65 169.52L579.85 171.72L577.65 173.92L575.45 171.72Z" fill="#B177DE"/>
<path d="M584.77 167.85L586.98 170.05L584.77 172.25L582.57 170.05Z" fill="#B177DE"/>
<path d="M591.90 166.34L594.10 168.54L591.90 170.74L589.70 168.54Z" fill="#B177DE"/>
<path d="M599.02 164.97L601.23 167.17L599.02 169.37L596.82 167.17Z" fill="#B177DE"/>
<path d="M606.15 163.76L608.35 165.96L606.15 168.16L603.95 165.96Z" fill="#B177DE"/>
<path d="M613.27 162.57L615.48 164.77L613.27 166.97L611.07 164.77Z" fill="#B177DE"/>
<path d="M620.40 161.04L622.60 163.24L620.40 165.44L618.20 163.24Z" fill="#B177DE"/>
<path d="M627.52 159.99L629.73 162.19L627.52 164.39L625.32 162.19Z" fill="#B177DE"/>
<path d="M634.65 158.80L636.85 161.00L634.65 163.20L632.45 161.00Z" fill="#B177DE"/>
<path d="M641.77 157.41L643.98 159.61L641.77 161.81L639.57 159.61Z" fill="#B177DE"/>
<path d="M648.90 156.52L651.10 158.72L648.90 160.92L646.70 158.72Z" fill="#B177DE"/>
<path d="M656.02 155.47L658.23 157.67L656.02 159.87L653.82 157.67Z" fill="#B177DE"/>
<path d="M663.15 154.39L665.35 156.59L663.15 158.79L660.95 156.59Z" fill="#B177DE"/>
<path d="M670.27 153.18L672.48 155.38L670.27 157.58L668.07 155.38Z" fill="#B177DE"/>
<path d="M677.40 152.13L679.60 154.33L677.40 156.53L675.20 154.33Z" fill="#B177DE"/>
<polyline fill="none" stroke="#CC9900" stroke-width="0.95" stroke-linejoin="round" points="392.40,197.13 399.52,197.13 406.65,197.13 413.77,197.03 420.90,196.93 428.02,196.73 435.15,196.43 442.27,196.04 449.40,195.54 456.52,194.94 463.65,194.35 470.77,193.65 477.90,192.86 485.02,192.07 492.15,191.27 499.27,190.48 506.40,189.59 513.52,188.69 520.65,187.80 527.77,186.81 534.90,185.62 542.02,184.62 549.15,183.53 556.27,182.64 563.40,181.65 570.52,180.65 577.65,179.66 584.77,178.41 591.90,177.36 599.02,176.44 606.15,175.39 613.27,174.30 620.40,173.21 627.52,172.22 634.65,171.12 641.77,170.23 648.90,169.34 656.02,168.41 663.15,167.65 670.27,166.76 677.40,165.92"/>
<path d="M390.35 197.13L393.94 195.08L393.94 199.18Z" fill="#CC9900"/>
<path d="M397.47 197.13L401.06 195.08L401.06 199.18Z" fill="#CC9900"/>
<path d="M404.60 197.13L408.19 195.08L408.19 199.18Z" fill="#CC9900"/>
<path d="M411.72 197.03L415.31 194.98L415.31 199.08Z" fill="#CC9900"/>
<path d="M418.85 196.93L422.44 194.88L422.44 198.98Z" fill="#CC9900"/>
<path d="M425.97 196.73L429.56 194.68L429.56 198.78Z" fill="#CC9900"/>
<path d="M433.10 196.43L436.69 194.38L436.69 198.48Z" fill="#CC9900"/>
<path d="M440.22 196.04L443.81 193.99L443.81 198.09Z" fill="#CC9900"/>
<path d="M447.35 195.54L450.94 193.49L450.94 197.59Z" fill="#CC9900"/>
<path d="M454.47 194.94L458.06 192.89L458.06 197.00Z" fill="#CC9900"/>
<path d="M461.60 194.35L465.19 192.30L465.19 196.40Z" fill="#CC9900"/>
<path d="M468.72 193.65L472.31 191.60L472.31 195.70Z" fill="#CC9900"/>
<path d="M475.85 192.86L479.44 190.81L479.44 194.91Z" fill="#CC9900"/>
<path d="M482.97 192.07L486.56 190.02L486.56 194.12Z" fill="#CC9900"/>
<path d="M490.10 191.27L493.69 189.22L493.69 193.32Z" fill="#CC9900"/>
<path d="M497.22 190.48L500.81 188.43L500.81 192.53Z" fill="#CC9900"/>
<path d="M504.35 189.59L507.94 187.54L507.94 191.64Z" fill="#CC9900"/>
<path d="M511.47 188.69L515.06 186.64L515.06 190.74Z" fill="#CC9900"/>
<path d="M518.60 187.80L522.19 185.75L522.19 189.85Z" fill="#CC9900"/>
<path d="M525.73 186.81L529.31 184.76L529.31 188.86Z" fill="#CC9900"/>
<path d="M532.85 185.62L536.44 183.57L536.44 187.67Z" fill="#CC9900"/>
<path d="M539.98 184.62L543.56 182.57L543.56 186.67Z" fill="#CC9900"/>
<path d="M547.10 183.53L550.69 181.48L550.69 185.58Z" fill="#CC9900"/>
<path d="M554.23 182.64L557.81 180.59L557.81 184.69Z" fill="#CC9900"/>
<path d="M561.35 181.65L564.94 179.60L564.94 183.70Z" fill="#CC9900"/>
<path d="M568.48 180.65L572.06 178.60L572.06 182.70Z" fill="#CC9900"/>
<path d="M575.60 179.66L579.19 177.61L579.19 181.71Z" fill="#CC9900"/>
<path d="M582.73 178.41L586.31 176.36L586.31 180.46Z" fill="#CC9900"/>
<path d="M589.85 177.36L593.44 175.31L593.44 179.41Z" fill="#CC9900"/>
<path d="M596.98 176.44L600.56 174.39L600.56 178.49Z" fill="#CC9900"/>
<path d="M604.10 175.39L607.69 173.34L607.69 177.44Z" fill="#CC9900"/>
<path d="M611.23 174.30L614.81 172.25L614.81 176.35Z" fill="#CC9900"/>
<path d="M618.35 173.21L621.94 171.16L621.94 175.26Z" fill="#CC9900"/>
<path d="M625.48 172.22L629.06 170.17L629.06 174.27Z" fill="#CC9900"/>
<path d="M632.60 171.12L636.19 169.07L636.19 173.18Z" fill="#CC9900"/>
<path d="M639.73 170.23L643.31 168.18L643.31 172.28Z" fill="#CC9900"/>
<path d="M646.85 169.34L650.44 167.29L650.44 171.39Z" fill="#CC9900"/>
<path d="M653.98 168.41L657.56 166.36L657.56 170.46Z" fill="#CC9900"/>
<path d="M661.10 167.65L664.69 165.60L664.69 169.70Z" fill="#CC9900"/>
<path d="M668.23 166.76L671.81 164.71L671.81 168.81Z" fill="#CC9900"/>
<path d="M675.35 165.92L678.94 163.87L678.94 167.97Z" fill="#CC9900"/>
<polyline fill="none" stroke="#00CBCC" stroke-width="0.95" stroke-linejoin="round" points="392.40,197.13 399.52,197.13 406.65,197.13 413.77,197.13 420.90,197.03 428.02,196.93 435.15,196.83 442.27,196.63 449.40,196.43 456.52,196.24 463.65,195.94 470.77,195.54 477.90,195.14 485.02,194.75 492.15,194.35 499.27,193.85 506.40,193.36 513.52,192.76 520.65,192.17 527.77,191.47 534.90,190.78 542.02,189.88 549.15,189.19 556.27,188.39 563.40,187.64 570.52,186.89 577.65,185.91 584.77,185.02 591.90,184.03 599.02,183.23 606.15,182.50 613.27,181.74 620.40,180.75 627.52,179.94 634.65,179.16 641.77,178.17 648.90,177.58 656.02,176.62 663.15,175.89 670.27,175.09 677.40,174.18"/>
<path d="M394.45 197.13L390.86 195.08L390.86 199.18Z" fill="#00CBCC"/>
<path d="M401.57 197.13L397.99 195.08L397.99 199.18Z" fill="#00CBCC"/>
<path d="M408.70 197.13L405.11 195.08L405.11 199.18Z" fill="#00CBCC"/>
<path d="M415.82 197.13L412.24 195.08L412.24 199.18Z" fill="#00CBCC"/>
<path d="M422.95 197.03L419.36 194.98L419.36 199.08Z" fill="#00CBCC"/>
<path d="M430.07 196.93L426.49 194.88L426.49 198.98Z" fill="#00CBCC"/>
<path d="M437.20 196.83L433.61 194.78L433.61 198.88Z" fill="#00CBCC"/>
<path d="M444.32 196.63L440.74 194.58L440.74 198.68Z" fill="#00CBCC"/>
<path d="M451.45 196.43L447.86 194.38L447.86 198.48Z" fill="#00CBCC"/>
<path d="M458.57 196.24L454.99 194.19L454.99 198.29Z" fill="#00CBCC"/>
<path d="M465.70 195.94L462.11 193.89L462.11 197.99Z" fill="#00CBCC"/>
<path d="M472.82 195.54L469.24 193.49L469.24 197.59Z" fill="#00CBCC"/>
<path d="M479.95 195.14L476.36 193.09L476.36 197.19Z" fill="#00CBCC"/>
<path d="M487.07 194.75L483.49 192.70L483.49 196.80Z" fill="#00CBCC"/>
<path d="M494.20 194.35L490.61 192.30L490.61 196.40Z" fill="#00CBCC"/>
<path d="M501.32 193.85L497.74 191.80L497.74 195.90Z" fill="#00CBCC"/>
<path d="M508.45 193.36L504.86 191.31L504.86 195.41Z" fill="#00CBCC"/>
<path d="M515.57 192.76L511.99 190.71L511.99 194.81Z" fill="#00CBCC"/>
<path d="M522.70 192.17L519.11 190.12L519.11 194.22Z" fill="#00CBCC"/>
<path d="M529.82 191.47L526.24 189.42L526.24 193.52Z" fill="#00CBCC"/>
<path d="M536.95 190.78L533.36 188.73L533.36 192.83Z" fill="#00CBCC"/>
<path d="M544.07 189.88L540.49 187.83L540.49 191.93Z" fill="#00CBCC"/>
<path d="M551.20 189.19L547.61 187.14L547.61 191.24Z" fill="#00CBCC"/>
<path d="M558.32 188.39L554.74 186.34L554.74 190.44Z" fill="#00CBCC"/>
<path d="M565.45 187.64L561.86 185.59L561.86 189.69Z" fill="#00CBCC"/>
<path d="M572.57 186.89L568.99 184.84L568.99 188.94Z" fill="#00CBCC"/>
<path d="M579.70 185.91L576.11 183.86L576.11 187.96Z" fill="#00CBCC"/>
<path d="M586.82 185.02L583.24 182.97L583.24 187.07Z" fill="#00CBCC"/>
<path d="M593.95 184.03L590.36 181.98L590.36 186.08Z" fill="#00CBCC"/>
<path d="M601.07 183.23L597.49 181.18L597.49 185.28Z" fill="#00CBCC"/>
<path d="M608.20 182.50L604.61 180.45L604.61 184.55Z" fill="#00CBCC"/>
<path d="M615.32 181.74L611.74 179.69L611.74 183.79Z" fill="#00CBCC"/>
<path d="M622.45 180.75L618.86 178.70L618.86 182.80Z" fill="#00CBCC"/>
<path d="M629.57 179.94L625.99 177.89L625.99 181.99Z" fill="#00CBCC"/>
<path d="M636.70 179.16L633.11 177.11L633.11 181.21Z" fill="#00CBCC"/>
<path d="M643.82 178.17L640.24 176.12L640.24 180.22Z" fill="#00CBCC"/>
<path d="M650.95 177.58L647.36 175.53L647.36 179.63Z" fill="#00CBCC"/>
<path d="M658.07 176.62L654.49 174.57L654.49 178.67Z" fill="#00CBCC"/>
<path d="M665.20 175.89L661.61 173.84L661.61 177.94Z" fill="#00CBCC"/>
<path d="M672.32 175.09L668.74 173.04L668.74 177.15Z" fill="#00CBCC"/>
<path d="M679.45 174.18L675.86 172.13L675.86 176.23Z" fill="#00CBCC"/>
<path d="M392.40 1.90V201.65M391.85 201.10H677.90" stroke="#303030" stroke-width="1.1" fill="none"/>
<path d="M392.40 200.90h3.8M392.40 181.05h2.0M392.40 161.20h3.8M392.40 141.35h2.0M392.40 121.50h3.8M392.40 101.65h2.0M392.40 81.80h3.8M392.40 61.95h2.0M392.40 42.10h3.8M392.40 22.25h2.0M392.40 2.40h3.8M392.40 201.10v-3.8M416.15 201.10v-2.0M439.90 201.10v-3.8M463.65 201.10v-2.0M487.40 201.10v-3.8M511.15 201.10v-2.0M534.90 201.10v-3.8M558.65 201.10v-2.0M582.40 201.10v-3.8M606.15 201.10v-2.0M629.90 201.10v-3.8M653.65 201.10v-2.0M677.40 201.10v-3.8" stroke="#303030" stroke-width="1" fill="none"/>
<text x="388.20" y="204.65" text-anchor="end" font-size="8.7" textLength="4.0" lengthAdjust="spacingAndGlyphs">0</text>
<text x="388.20" y="164.95" text-anchor="end" font-size="8.7" textLength="12.0" lengthAdjust="spacingAndGlyphs">200</text>
<text x="388.20" y="125.25" text-anchor="end" font-size="8.7" textLength="12.0" lengthAdjust="spacingAndGlyphs">400</text>
<text x="388.20" y="85.55" text-anchor="end" font-size="8.7" textLength="12.0" lengthAdjust="spacingAndGlyphs">600</text>
<text x="388.20" y="45.85" text-anchor="end" font-size="8.7" textLength="12.0" lengthAdjust="spacingAndGlyphs">800</text>
<text x="388.20" y="6.15" text-anchor="end" font-size="8.7" textLength="16.0" lengthAdjust="spacingAndGlyphs">1000</text>
<text x="392.40" y="212.30" text-anchor="middle" font-size="8.7" textLength="4.0" lengthAdjust="spacingAndGlyphs">0</text>
<text x="439.90" y="212.30" text-anchor="middle" font-size="8.7" textLength="12.0" lengthAdjust="spacingAndGlyphs">400</text>
<text x="487.40" y="212.30" text-anchor="middle" font-size="8.7" textLength="12.0" lengthAdjust="spacingAndGlyphs">800</text>
<text x="534.90" y="212.30" text-anchor="middle" font-size="8.7" textLength="16.0" lengthAdjust="spacingAndGlyphs">1200</text>
<text x="582.40" y="212.30" text-anchor="middle" font-size="8.7" textLength="16.0" lengthAdjust="spacingAndGlyphs">1600</text>
<text x="629.90" y="212.30" text-anchor="middle" font-size="8.7" textLength="16.0" lengthAdjust="spacingAndGlyphs">2000</text>
<text x="677.40" y="212.30" text-anchor="middle" font-size="8.7" textLength="16.0" lengthAdjust="spacingAndGlyphs">2400</text>
<g class="ttl"><text x="522.60" y="225.60" text-anchor="middle" font-size="10.0" textLength="4.62" lengthAdjust="spacingAndGlyphs">T</text><text x="527.52" y="225.60" text-anchor="middle" font-size="10.0">i</text><text x="532.44" y="225.60" text-anchor="middle" font-size="10.0" textLength="4.62" lengthAdjust="spacingAndGlyphs">m</text><text x="537.36" y="225.60" text-anchor="middle" font-size="10.0">e</text><text x="542.28" y="225.60" text-anchor="middle" font-size="10.0">/</text><text x="547.20" y="225.60" text-anchor="middle" font-size="10.0">s</text></g>
<g class="ttl" transform="translate(367.50 101.65) rotate(-90)"><text x="-31.98" y="0.00" text-anchor="middle" font-size="10.0" textLength="4.62" lengthAdjust="spacingAndGlyphs">T</text><text x="-27.06" y="0.00" text-anchor="middle" font-size="10.0">e</text><text x="-22.14" y="0.00" text-anchor="middle" font-size="10.0" textLength="4.62" lengthAdjust="spacingAndGlyphs">m</text><text x="-17.22" y="0.00" text-anchor="middle" font-size="10.0" textLength="4.62" lengthAdjust="spacingAndGlyphs">p</text><text x="-12.30" y="0.00" text-anchor="middle" font-size="10.0">e</text><text x="-7.38" y="0.00" text-anchor="middle" font-size="10.0">r</text><text x="-2.46" y="0.00" text-anchor="middle" font-size="10.0">a</text><text x="2.46" y="0.00" text-anchor="middle" font-size="10.0">t</text><text x="7.38" y="0.00" text-anchor="middle" font-size="10.0" textLength="4.62" lengthAdjust="spacingAndGlyphs">u</text><text x="12.30" y="0.00" text-anchor="middle" font-size="10.0">r</text><text x="17.22" y="0.00" text-anchor="middle" font-size="10.0">e</text><text x="22.14" y="0.00" text-anchor="middle" font-size="10.0">/</text><text x="26.50" y="-0.4" text-anchor="middle" font-size="8.5">°</text><text x="31.00" y="0" text-anchor="middle" font-size="10" textLength="6.0" lengthAdjust="spacingAndGlyphs">C</text></g>
<path d="M399.20 16.50h19.2" stroke="#515151" stroke-width="0.95"/>
<rect x="407.05" y="14.75" width="3.50" height="3.50" fill="#515151"/>
<text x="422.90" y="19.80" font-size="9.6" textLength="4.5" lengthAdjust="spacingAndGlyphs">0</text>
<path d="M427.20 16.50h19.2" stroke="#F14040" stroke-width="0.95"/>
<circle cx="436.80" cy="16.50" r="1.85" fill="#F14040"/>
<text x="451.10" y="19.80" font-size="9.6" textLength="8.7" lengthAdjust="spacingAndGlyphs">10</text>
<text x="460.10" y="19.80" font-size="10.5" textLength="9.5" lengthAdjust="spacingAndGlyphs">mm</text>
<path d="M469.34 16.50h19.2" stroke="#1A6FDF" stroke-width="0.95"/>
<path d="M478.94 14.35L481.09 18.11L476.79 18.11Z" fill="#1A6FDF"/>
<text x="493.24" y="19.80" font-size="9.6" textLength="8.7" lengthAdjust="spacingAndGlyphs">20</text>
<text x="502.24" y="19.80" font-size="10.5" textLength="9.5" lengthAdjust="spacingAndGlyphs">mm</text>
<path d="M511.48 16.50h19.2" stroke="#37AD6B" stroke-width="0.95"/>
<path d="M521.08 18.65L523.23 14.89L518.93 14.89Z" fill="#37AD6B"/>
<text x="535.38" y="19.80" font-size="9.6" textLength="8.7" lengthAdjust="spacingAndGlyphs">30</text>
<text x="544.38" y="19.80" font-size="10.5" textLength="9.5" lengthAdjust="spacingAndGlyphs">mm</text>
<path d="M553.62 16.50h19.2" stroke="#B177DE" stroke-width="0.95"/>
<path d="M563.22 14.20L565.52 16.50L563.22 18.80L560.92 16.50Z" fill="#B177DE"/>
<text x="577.52" y="19.80" font-size="9.6" textLength="8.7" lengthAdjust="spacingAndGlyphs">40</text>
<text x="586.52" y="19.80" font-size="10.5" textLength="9.5" lengthAdjust="spacingAndGlyphs">mm</text>
<path d="M595.76 16.50h19.2" stroke="#CC9900" stroke-width="0.95"/>
<path d="M603.21 16.50L606.97 14.35L606.97 18.65Z" fill="#CC9900"/>
<text x="619.66" y="19.80" font-size="9.6" textLength="8.7" lengthAdjust="spacingAndGlyphs">50</text>
<text x="628.66" y="19.80" font-size="10.5" textLength="9.5" lengthAdjust="spacingAndGlyphs">mm</text>
<path d="M637.90 16.50h19.2" stroke="#00CBCC" stroke-width="0.95"/>
<path d="M649.65 16.50L645.89 14.35L645.89 18.65Z" fill="#00CBCC"/>
<text x="661.80" y="19.80" font-size="9.6" textLength="8.7" lengthAdjust="spacingAndGlyphs">60</text>
<text x="670.80" y="19.80" font-size="10.5" textLength="9.5" lengthAdjust="spacingAndGlyphs">mm</text>
<text x="524.30" y="260.3" font-size="21.6" stroke="none">(b)</text>
</svg>
</body></html>
